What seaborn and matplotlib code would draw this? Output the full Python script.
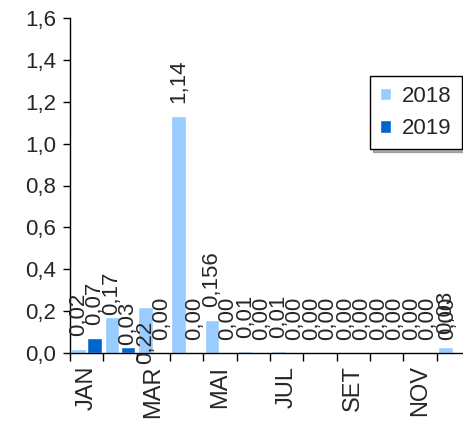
import matplotlib
matplotlib.use('Agg')
import pandas as pd
import matplotlib.pyplot as plt
import seaborn as sns
from matplotlib.ticker import FuncFormatter, FixedLocator

months = ['JAN', 'FEV', 'MAR', 'ABR', 'MAI', 'JUN', 'JUL', 'AGO', 'SET', 'OUT', 'NOV', 'DEZ']
shown_months = ['JAN', 'MAR', 'MAI', 'JUL', 'SET', 'NOV']
values_2018 = [0.02, 0.17, 0.22, 1.13, 0.156, 0.01, 0.01, 0.0, 0.0, 0.0, 0.0, 0.03]
values_2019 = [0.07, 0.03, 0.0, 0.0, 0.0, 0.0, 0.0, 0.0, 0.0, 0.0, 0.0, 0.0]
labels_2018 = ['0,02', '0,17', '0,22', '1,14', '0,156', '0,01', '0,01', '0,00', '0,00', '0,00', '0,00', '0,03']
labels_2019 = ['0,07', '0,03', '0,00', '0,00', '0,00', '0,00', '0,00', '0,00', '0,00', '0,00', '0,00', '0,00']
years = ['2018', '2019']

df = pd.DataFrame({
    'mes': months * 2,
    'valor': values_2018 + values_2019,
    'ano': ['2018'] * 12 + ['2019'] * 12,
})

sns.set_theme(style='ticks')
plt.rcParams['font.family'] = ['Liberation Sans', 'DejaVu Sans']
FS = 16

fig = plt.figure(figsize=(4.64, 4.24), dpi=100)
ax = fig.add_axes([70 / 464, 71 / 424, 400 / 464, 335 / 424])

sns.barplot(data=df, x='mes', y='valor', hue='ano', order=months, hue_order=years,
            palette=['#99CCFF', '#0066CC'], saturation=1, width=0.96, gap=0.1,
            ax=ax)

# data labels, rotated; a few were dragged around in the original
px = 72 / 100
special = {(0, 2): (0, -57), (0, 1): (0, 2), (1, 1): (0, 2), (1, 11): (-14, 13)}
for i, (cont, labs) in enumerate(zip(ax.containers, [labels_2018, labels_2019])):
    for j, (bar, txt) in enumerate(zip(cont, labs)):
        dx, dy = special.get((i, j), (0, 13))
        ax.annotate(txt, (bar.get_x() + bar.get_width() / 2, bar.get_height()),
                    xytext=(dx * px, dy * px), textcoords='offset points',
                    ha='center', va='bottom', rotation=90, fontsize=FS,
                    annotation_clip=False)

ax.set_ylim(0, 1.6)
ax.set_yticks([i * 0.2 for i in range(9)])
ax.yaxis.set_major_formatter(FuncFormatter(lambda v, _: f'{v:.1f}'.replace('.', ',')))
ax.set_xlim(-0.5, 11.5)
ax.xaxis.set_major_locator(FixedLocator([i - 0.5 for i in range(13)]))
ax.xaxis.set_major_formatter(FuncFormatter(lambda v, _: ''))
ax.xaxis.set_minor_locator(FixedLocator([months.index(m) for m in shown_months]))
ax.set_xticklabels(shown_months, minor=True, rotation=90)
ax.tick_params(axis='x', which='minor', length=0, pad=9, labelsize=17)
ax.tick_params(axis='x', which='major', length=6, width=1, color='black', direction='out')
ax.tick_params(axis='y', length=5, width=1, color='black', labelsize=FS, pad=5)
ax.set_xlabel('')
ax.set_ylabel('')
sns.despine(ax=ax)
for s in ['left', 'bottom']:
    ax.spines[s].set_color('black')
    ax.spines[s].set_linewidth(1)

handles, labs = ax.get_legend_handles_labels()
ax.legend(handles, labs, loc='upper left', bbox_to_anchor=(0.75, 0.827),
          borderaxespad=0, frameon=True, fancybox=False, edgecolor='black',
          framealpha=1, shadow={'color': '0.4'}, handlelength=0.5,
          handleheight=0.5, handletextpad=0.5, borderpad=0.45,
          labelspacing=0.5, fontsize=FS)
ax.get_legend().get_frame().set_linewidth(1)

fig.savefig('out.png', dpi=100)
